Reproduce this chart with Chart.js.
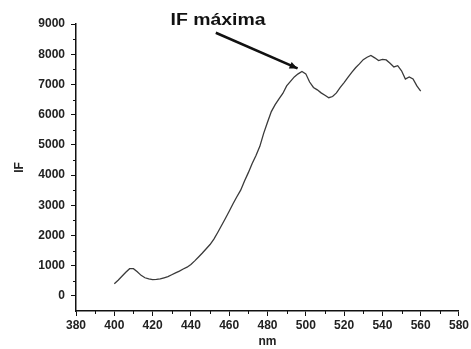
<!DOCTYPE html>
<html>
<head>
<meta charset="utf-8">
<script src="https://cdn.jsdelivr.net/npm/chart.js@4.4.1/dist/chart.umd.min.js"></script>
<style>
  html, body { margin: 0; padding: 0; background: #fff; }
  #wrap { width: 471px; height: 349px; }
</style>
</head>
<body>
<div id="wrap"><canvas id="spectre"></canvas></div>
<script>
const wavelengths = [400, 402, 404, 406, 408, 410, 412, 414, 416, 418, 420, 422, 424, 426, 428, 430,
  432, 434, 436, 438, 440, 442, 444, 446, 448, 450, 452, 454, 456, 458, 460, 462, 464, 466, 468, 470,
  472, 474, 476, 478, 480, 482, 484, 486, 488, 490, 492, 494, 496, 498, 500, 502, 504, 506, 508, 510,
  512, 514, 516, 518, 520, 522, 524, 526, 528, 530, 532, 534, 536, 538, 540, 542, 544, 546, 548, 550,
  552, 554, 556, 558, 560];
const intensity = [400, 520, 650, 780, 900, 900, 800, 680, 600, 560, 540, 545, 560, 600, 640, 700,
  760, 820, 890, 950, 1040, 1160, 1290, 1420, 1560, 1700, 1880, 2100, 2330, 2560, 2800, 3050, 3280, 3500, 3800, 4080,
  4380, 4650, 4950, 5380, 5750, 6100, 6330, 6520, 6700, 6950, 7100, 7250, 7350, 7430, 7350, 7080, 6900, 6820, 6720, 6640,
  6560, 6600, 6720, 6900, 7060, 7230, 7400, 7550, 7680, 7820, 7900, 7960, 7880, 7790, 7830, 7810, 7700, 7580, 7620, 7450,
  7180, 7250, 7180, 6950, 6780];

const xTicks = [380, 400, 420, 440, 460, 480, 500, 520, 540, 560, 580];
const yTicks = [0, 1000, 2000, 3000, 4000, 5000, 6000, 7000, 8000, 9000];

const police = { family: '"Liberation Sans", Arial, sans-serif', size: 12, weight: 'bold' };

// petites graduations intermédiaires + flèche "IF máxima"
const extras = {
  id: 'extras',
  afterDraw(chart) {
    const ctx = chart.ctx;
    const x = chart.scales.x, y = chart.scales.y;
    ctx.save();
    ctx.strokeStyle = '#111';
    ctx.lineWidth = 1;
    ctx.beginPath();
    for (let v = 390; v < 580; v += 20) {
      const px = Math.round(x.getPixelForValue(v)) + 0.5;
      ctx.moveTo(px, y.bottom);
      ctx.lineTo(px, y.bottom + 3);
    }
    for (let v = 500; v < 9000; v += 1000) {
      const py = Math.round(y.getPixelForValue(v)) + 0.5;
      ctx.moveTo(x.left, py);
      ctx.lineTo(x.left - 3, py);
    }
    ctx.stroke();

    // flèche
    const x0 = x.getPixelForValue(453), y0 = y.getPixelForValue(8710);
    const x1 = x.getPixelForValue(495.7), y1 = y.getPixelForValue(7530);
    ctx.strokeStyle = '#111';
    ctx.lineWidth = 2.5;
    ctx.beginPath();
    ctx.moveTo(x0, y0);
    ctx.lineTo(x1, y1);
    ctx.stroke();
    const a = Math.atan2(y1 - y0, x1 - x0);
    ctx.fillStyle = '#111';
    ctx.beginPath();
    ctx.moveTo(x1, y1);
    ctx.lineTo(x1 - 8 * Math.cos(a) + 3.5 * Math.sin(a), y1 - 8 * Math.sin(a) - 3.5 * Math.cos(a));
    ctx.lineTo(x1 - 8 * Math.cos(a) - 3.5 * Math.sin(a), y1 - 8 * Math.sin(a) + 3.5 * Math.cos(a));
    ctx.closePath();
    ctx.fill();

    // libellé un peu condensé
    ctx.font = 'bold 16px "Liberation Sans", Arial, sans-serif';
    ctx.textBaseline = 'middle';
    const texte = 'IF máxima';
    const w = ctx.measureText(texte).width;
    const cx = x.getPixelForValue(454.2), cy = y.getPixelForValue(9116);
    ctx.translate(cx, cy);
    ctx.scale(95 / w, 1);
    ctx.textAlign = 'center';
    ctx.fillText(texte, 0, 0);
    ctx.restore();
  }
};

new Chart(document.getElementById('spectre'), {
  type: 'line',
  data: {
    datasets: [{
      data: wavelengths.map((nm, i) => ({ x: nm, y: intensity[i] })),
      borderColor: '#3a3a3a',
      borderWidth: 1.3,
      pointRadius: 0,
      tension: 0,
      fill: false
    }]
  },
  options: {
    responsive: true,
    maintainAspectRatio: false,
    animation: false,
    layout: { padding: { top: 24, right: 9, left: 0, bottom: 0 } },
    plugins: { legend: { display: false }, tooltip: { enabled: false } },
    scales: {
      x: {
        type: 'linear',
        min: 380,
        max: 580,
        afterBuildTicks: (s) => { s.ticks = xTicks.map(v => ({ value: v })); },
        afterFit: (s) => { s.height = 38; },
        ticks: { color: '#222', font: police, padding: 2, maxRotation: 0, callback: (v) => String(v) },
        grid: { drawOnChartArea: false, tickLength: 5, tickColor: '#111', tickWidth: 1 },
        border: { color: '#111', width: 1.5 },
        title: { display: true, text: 'nm', color: '#222', font: police, padding: { top: 0, bottom: 0 } }
      },
      y: {
        min: -500,
        max: 9000,
        afterBuildTicks: (s) => { s.ticks = yTicks.map(v => ({ value: v })); },
        afterFit: (s) => { s.width = 76; },
        ticks: { color: '#222', font: police, padding: 6, callback: (v) => String(v) },
        grid: { drawOnChartArea: false, tickLength: 5, tickColor: '#111', tickWidth: 1 },
        border: { color: '#111', width: 1.5 },
        title: { display: true, text: 'IF', color: '#222', font: police, padding: { top: 12, bottom: 0 } }
      }
    }
  },
  plugins: [extras]
});
</script>
</body>
</html>
